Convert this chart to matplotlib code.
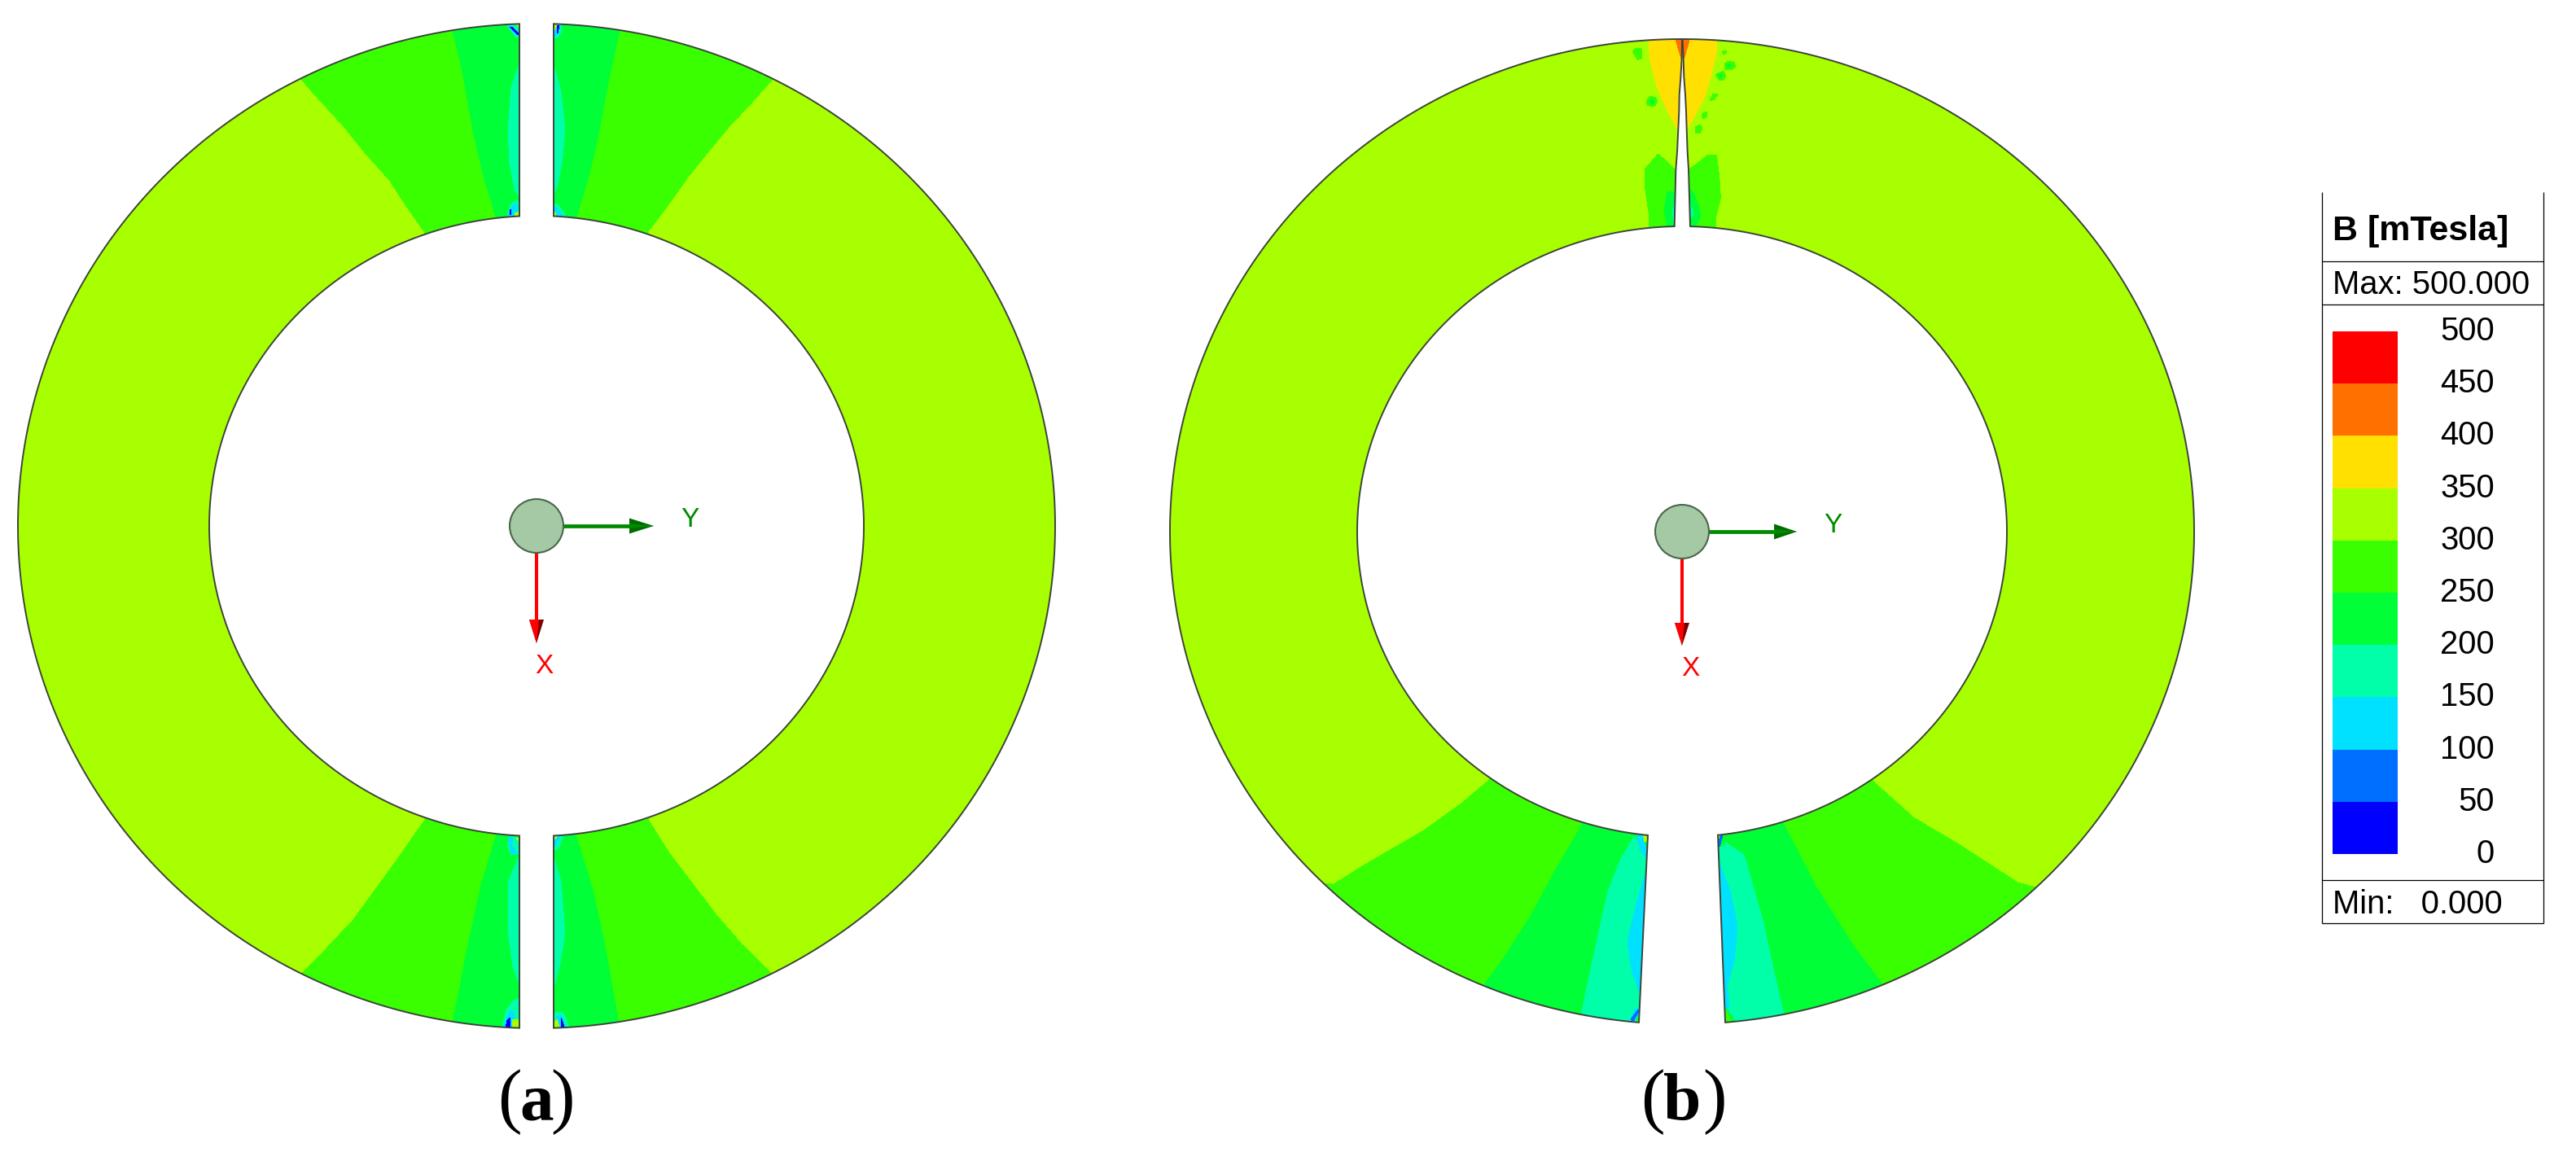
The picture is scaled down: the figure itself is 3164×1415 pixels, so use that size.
import numpy as np
import matplotlib
matplotlib.use("Agg")
import matplotlib.pyplot as plt
from matplotlib.colors import ListedColormap, BoundaryNorm
from matplotlib.patches import Polygon, Ellipse

LEVELS = [0, 50, 100, 150, 200, 250, 300, 350, 400, 450, 500]
BAND_COLORS = ["#0000ff", "#006eff", "#00e0ff", "#00ffa8", "#00ff37",
               "#39ff00", "#a8ff00", "#ffe000", "#ff7000", "#ff0000"]
TITLE = "B [mTesla]"
MAX_LABEL = "Max: 500.000"
MIN_LABEL = "Min:   0.000"

# ring geometry (cx, cy, rx_out, ry_out, rx_in, ry_in)
RING_A = (659, 646, 637, 617, 402, 381)
RING_B = (2066, 653, 629, 605, 399, 375)
GAP_A = (21, 21)


def z3(pts):
    return [(1900 + x / 3, 30 + y / 3) for x, y in pts]


# ---- ring (a): contour bands, (value, vertices) ----
A_LEFT = [
    (275, [(352, 76), (367, 94), (389, 119), (422, 155), (447, 186), (479, 222), (497, 250), (520, 283),
           (530, 300), (640, 300), (640, 0), (352, 0)]),
    (225, [(553, 20), (556, 37), (567, 83), (581, 160), (593, 213), (609, 266), (612, 285), (640, 285), (640, 20)]),
    (175, [(640, 72), (637, 80), (628, 107), (624, 160), (626, 200), (632, 233), (640, 245)]),
    (275, [(368, 1198), (401, 1165), (434, 1130), (487, 1057), (520, 1010), (530, 990), (640, 990), (640, 1290),
           (340, 1290), (352, 1215)]),
    (225, [(609, 1028), (591, 1087), (573, 1170), (556, 1257), (553, 1275), (640, 1275), (640, 1015), (612, 1015)]),
    (175, [(640, 1045), (637, 1053), (624.5, 1083), (624.5, 1147), (630, 1187), (637, 1207), (640, 1215)]),
    # corner specks
    (175, [(622, 30), (640, 30), (640, 46), (634, 46)]),
    (125, [(623, 32), (627, 32), (640, 42), (640, 44), (636, 44)]),
    (25, [(626, 33), (628, 33), (637, 41), (637, 43)]),
    (325, [(634, 30), (640, 30), (640, 36)]),
    (175, [(623, 264), (627, 252), (634, 246), (640, 246), (640, 268), (623, 268)]),
    (125, [(624, 264), (628, 255), (634, 250), (636, 256), (632, 266)]),
    (25, [(626, 264), (627, 257), (628, 257), (628, 264)]),
    (325, [(632, 262), (640, 260), (640, 268), (632, 268)]),
    (175, [(624, 1028), (640, 1028), (640, 1050), (628, 1050), (625, 1042)]),
    (125, [(624, 1028), (630, 1028), (630, 1040), (636, 1050), (628, 1048)]),
    (325, [(634, 1030), (640, 1028), (640, 1036)]),
    (175, [(616, 1265), (622, 1240), (632, 1228), (640, 1225), (640, 1266)]),
    (125, [(618, 1264), (623, 1248), (628, 1240), (632, 1246), (631, 1264)]),
    (25, [(621, 1264), (623, 1253), (626, 1250), (627, 1264)]),
    (325, [(630, 1252), (638, 1252), (640, 1266), (629, 1266)]),
]
A_RIGHT = [
    (275, [(966, 78), (952, 94), (925, 124), (895, 156), (871, 185), (846, 216), (822, 250), (797, 283),
           (790, 300), (678, 300), (678, 0), (966, 0)]),
    (225, [(763, 20), (761, 37), (750, 87), (744, 117), (734, 170), (724, 213), (708, 266), (705, 285),
           (678, 285), (678, 20)]),
    (175, [(678, 76), (681, 83), (689, 113), (694, 160), (690, 200), (685, 227), (681, 237), (678, 245)]),
    (275, [(798, 1010), (822, 1048), (879, 1123), (911, 1160), (950, 1198), (966, 1215), (966, 1290), (678, 1290),
           (678, 990), (790, 990)]),
    (225, [(708, 1028), (728, 1093), (742, 1157), (760, 1257), (763, 1275), (678, 1275), (678, 1015), (705, 1015)]),
    (175, [(678, 1048), (681, 1055), (689, 1083), (694, 1147), (687, 1187), (681, 1210), (678, 1215)]),
    # corner specks
    (175, [(678, 28), (690, 28), (689, 40), (684, 47), (678, 47)]),
    (125, [(678, 28), (688, 30), (686, 42), (678, 46)]),
    (25, [(684, 31), (687, 31), (685, 41), (684, 41)]),
    (325, [(678, 28), (685, 28), (681, 37), (678, 37)]),
    (175, [(678, 250), (684, 250), (695, 265), (678, 268)]),
    (125, [(678, 254), (684, 256), (691, 265), (684, 265)]),
    (325, [(678, 260), (683, 262), (683, 268), (678, 268)]),
    (175, [(678, 1026), (692, 1026), (686, 1042), (678, 1046)]),
    (125, [(678, 1027), (688, 1027), (684, 1036), (678, 1040)]),
    (325, [(678, 1027), (684, 1027), (678, 1034)]),
    (175, [(678, 1255), (682, 1244), (690, 1243), (695, 1250), (700, 1266), (678, 1266)]),
    (125, [(683, 1250), (689, 1246), (695, 1264), (686, 1264)]),
    (25, [(689, 1250), (692, 1258), (693, 1264), (689, 1264)]),
    (325, [(678, 1258), (684, 1252), (688, 1264), (678, 1266)]),
]

# ---- ring (b) ----
B_LEFT = [
    (375, z3([(375, 40), (375, 58), (380, 130), (405, 230), (440, 310), (480, 385), (500, 400), (510, 40)])),
    (425, z3([(472, 40), (475, 58), (495, 125), (510, 125), (510, 40)])),
    (275, z3([(360, 535), (410, 477), (472, 535), (510, 535), (510, 770), (378, 770), (378, 745), (375, 690), (362, 600)])),
    (225, z3([(445, 615), (510, 615), (510, 770), (440, 770), (440, 720), (432, 690), (440, 640)])),
    (175, z3([(462, 690), (470, 660), (510, 660), (510, 730), (468, 730)])),
    (275, z3([(315, 100), (328, 88), (348, 90), (350, 125), (335, 130)])),
    (275, z3([(367, 285), (378, 265), (400, 268), (407, 285), (395, 303), (370, 298)])),
    (225, z3([(378, 285), (388, 275), (398, 283), (388, 295)])),
    (275, [(1840, 940), (1827, 960), (1795, 987), (1749, 1020), (1675, 1063), (1640, 1085), (1600, 1085),
           (1600, 1300), (2030, 1300), (2030, 940)]),
    (225, [(1950, 990), (1943, 1013), (1910, 1070), (1880, 1125), (1847, 1177), (1821, 1212), (1810, 1240),
           (1810, 1300), (2030, 1300), (2030, 990)]),
    (175, [(2014, 1015), (2008, 1026), (1990, 1057), (1975, 1095), (1967, 1130), (1947, 1223), (1942, 1248),
           (1940, 1275), (2030, 1275), (2030, 1015)]),
    (125, [(2030, 1060), (2022, 1070), (2010, 1110), (1999, 1157), (2005, 1195), (2013, 1217), (2030, 1222)]),
    (225, [(2006, 1024), (2030, 1024), (2030, 1044), (2014, 1044), (2012, 1034)]),
    (125, [(2010, 1026), (2018, 1026), (2022, 1044), (2030, 1046), (2030, 1060), (2015, 1046)]),
    (325, [(2018, 1024), (2030, 1024), (2030, 1034), (2020, 1034)]),
    (125, [(2002, 1254), (2008, 1240), (2014, 1238), (2014, 1258), (2002, 1258)]),
    (75, [(2003, 1252), (2012, 1240), (2013, 1242), (2006, 1254)]),
    (225, [(2008, 1256), (2013, 1246), (2016, 1246), (2016, 1258)]),
    (275, [(2010, 1258), (2014, 1250), (2016, 1258)]),
]
B_RIGHT = [
    (375, z3([(625, 40), (625, 100), (610, 170), (580, 270), (540, 345), (515, 385), (490, 400), (490, 40)])),
    (425, z3([(525, 40), (525, 58), (505, 125), (490, 125), (490, 40)])),
    (275, z3([(525, 535), (595, 480), (625, 482), (635, 560), (640, 640), (622, 710), (622, 770), (490, 770), (490, 535)])),
    (225, z3([(525, 605), (545, 630), (565, 690), (565, 715), (545, 745), (490, 770), (490, 605)])),
    (175, z3([(525, 650), (540, 700), (530, 712), (490, 712), (490, 650)])),
    (275, z3([(645, 97), (660, 97), (662, 105), (650, 110)])),
    (275, z3([(655, 145), (670, 135), (690, 140), (695, 155), (680, 168), (655, 168)])),
    (225, z3([(662, 152), (672, 146), (680, 153), (670, 158)])),
    (275, z3([(622, 185), (650, 172), (660, 190), (650, 205), (635, 205)])),
    (225, z3([(632, 188), (642, 182), (648, 190), (640, 196)])),
    (275, z3([(600, 280), (612, 257), (630, 257), (615, 278)])),
    (275, z3([(570, 330), (590, 322), (590, 340), (575, 348)])),
    (275, z3([(547, 378), (565, 370), (572, 385), (565, 400), (548, 400)])),
    (275, [(2290, 945), (2303, 962), (2350, 1004), (2404, 1036), (2478, 1084), (2508, 1092), (2530, 1100),
           (2530, 1300), (2100, 1300), (2100, 945)]),
    (225, [(2186, 995), (2191, 1013), (2231, 1090), (2277, 1163), (2315, 1213), (2325, 1240),
           (2325, 1300), (2100, 1300), (2100, 995)]),
    (175, [(2118, 1030), (2122, 1037), (2142, 1050), (2165, 1130), (2178, 1190), (2191, 1247),
           (2195, 1275), (2100, 1275), (2100, 1030)]),
    (125, [(2100, 1050), (2113, 1063), (2125, 1095), (2134, 1137), (2130, 1180), (2119, 1220), (2100, 1220)]),
    (125, [(2100, 1215), (2122, 1215), (2124, 1238), (2100, 1245)]),
    (225, [(2100, 1024), (2124, 1024), (2118, 1038), (2100, 1044)]),
    (75, [(2110, 1026), (2116, 1026), (2112, 1040), (2110, 1040)]),
    (325, [(2100, 1024), (2113, 1024), (2110, 1032), (2100, 1032)]),
    (225, [(2100, 1236), (2118, 1236), (2134, 1258), (2100, 1258)]),
    (275, [(2100, 1244), (2119, 1240), (2128, 1258), (2100, 1258)]),
]

# ---- ring (b) gap edges ----
GAP_B_LEFT = z3([(498, 58), (497, 125), (493, 195), (488, 260), (487, 320), (484, 385), (480, 470), (475, 535), (470, 745)])
GAP_B_RIGHT = z3([(500, 58), (503, 130), (505, 195), (510, 260), (513, 320), (515, 385), (518, 470), (522, 535), (528, 745)])
SLOT_B_LEFT = [(2024, 1026), (2013, 1256)]
SLOT_B_RIGHT = [(2110, 1026), (2119, 1256)]

cmap = ListedColormap(BAND_COLORS)
norm = BoundaryNorm(LEVELS, cmap.N)
EDGE = "#3c443c"


def half(ring, x_top_out, x_bot_out, x_bot_in, x_top_in, side):
    cx, cy, rxo, ryo, rxi, ryi = ring
    # angle measured from straight up, clockwise; the left half uses negative angles
    def ang(x, rx, top):
        a = np.arcsin(np.clip((x - cx) / rx, -1, 1))
        if top:
            return a
        return (np.pi - a) if side > 0 else (-np.pi - a)
    to0, to1 = ang(x_top_out, rxo, True), ang(x_bot_out, rxo, False)
    ti0, ti1 = ang(x_bot_in, rxi, False), ang(x_top_in, rxi, True)
    t = np.linspace(to0, to1, 300)
    outer = list(zip(cx + rxo * np.sin(t), cy - ryo * np.cos(t)))
    t = np.linspace(ti0, ti1, 220)
    inner = list(zip(cx + rxi * np.sin(t), cy - ryi * np.cos(t)))
    return outer, inner


def draw_half(ax, outline, bands):
    base = Polygon(outline, closed=True, fc=cmap(norm(325)), ec="none", antialiased=False, zorder=1)
    ax.add_patch(base)
    for val, pts in bands:
        p = Polygon(pts, closed=True, fc=cmap(norm(val)), ec="none", antialiased=False, zorder=2)
        ax.add_patch(p)
        p.set_clip_path(base)
    ax.add_patch(Polygon(outline, closed=True, fc="none", ec=EDGE, lw=1.4, joinstyle="miter", zorder=3))


def triad(ax, cx, cy, y_tip, y_head, x_tip, x_head, ylab, xlab):
    ax.plot([cx + 33, y_head], [cy, cy], color="#008a00", lw=3.4, solid_capstyle="butt", zorder=5)
    ax.add_patch(Polygon([(y_head, cy - 9.5), (y_tip, cy), (y_head, cy + 9.5)], fc="#006c00", ec="none", zorder=6))
    ax.add_patch(Polygon([(y_head, cy - 3), (y_tip, cy), (y_head, cy + 3)], fc="#008a00", ec="none", zorder=6))
    ax.plot([cx, cx], [cy + 33, x_head], color="#ff0000", lw=2.9, solid_capstyle="butt", zorder=5)
    ax.add_patch(Polygon([(cx - 9, x_head), (cx, x_tip), (cx + 9, x_head)], fc="#7a0000", ec="none", zorder=6))
    ax.add_patch(Polygon([(cx - 9, x_head), (cx, x_tip), (cx + 3, x_head)], fc="#ff0000", ec="none", zorder=6))
    ax.add_patch(Ellipse((cx, cy), 66, 66, fc="#a5c8a5", ec="#4a664a", lw=1.5, zorder=7))
    ax.text(*ylab, "Y", color="#008a00", fontsize=24, family="Liberation Sans", ha="center", va="center_baseline")
    ax.text(*xlab, "X", color="#ff0000", fontsize=24, family="Liberation Sans", ha="center", va="center_baseline")


fig = plt.figure(figsize=(31.64, 14.15), dpi=100)
ax = fig.add_axes([0, 0, 1, 1])
ax.set_xlim(0, 3164)
ax.set_ylim(1415, 0)
ax.axis("off")

# ring (a): four-cornered halves with a straight slot
cx = RING_A[0]
xl, xr = cx - GAP_A[0], cx + GAP_A[1]
o, i = half(RING_A, xl, xl, xl, xl, -1)
draw_half(ax, o + i, A_LEFT)
o, i = half(RING_A, xr, xr, xr, xr, 1)
draw_half(ax, o + i, A_RIGHT)

# ring (b): halves meeting in a thin wedge at the top, open wedge at the bottom
o, i = half(RING_B, GAP_B_LEFT[0][0], SLOT_B_LEFT[1][0], SLOT_B_LEFT[0][0], GAP_B_LEFT[-1][0], -1)
draw_half(ax, o + i + GAP_B_LEFT[::-1], B_LEFT)
o, i = half(RING_B, GAP_B_RIGHT[0][0], SLOT_B_RIGHT[1][0], SLOT_B_RIGHT[0][0], GAP_B_RIGHT[-1][0], 1)
draw_half(ax, o + i + GAP_B_RIGHT[::-1], B_RIGHT)

triad(ax, 659, 646, 803, 773, 790, 761, (847, 635), (668, 815))
triad(ax, 2066, 653, 2207, 2179, 793, 765, (2251, 642), (2076, 818))

# panel labels
for xs, letter in (((626, 659, 691), "a"), ((2030, 2066, 2106), "b")):
    ax.text(xs[0], 1375, "(", fontsize=64, family="Liberation Serif", ha="center", va="baseline")
    ax.text(xs[1], 1375, letter, fontsize=60, family="Liberation Serif", weight="bold", ha="center", va="baseline")
    ax.text(xs[2], 1375, ")", fontsize=64, family="Liberation Serif", ha="center", va="baseline")

# legend
bar_top, bar_bot = 407.0, 1049.0
def bar_y(v):
    return bar_bot + (bar_top - bar_bot) * np.asarray(v, float) / LEVELS[-1]
vals = np.array([[0.5 * (a + b)] for a, b in zip(LEVELS[:-1], LEVELS[1:])])
ax.pcolormesh([2865, 2945], bar_y(LEVELS), vals, cmap=cmap, norm=norm, antialiased=False, linewidth=0)
for v in LEVELS:
    ax.text(3064, bar_y(v) - 4, str(v), fontsize=28.8, family="Liberation Sans", ha="right", va="center_baseline")
for x in (2852, 3124):
    ax.plot([x, x], [236, 1134], color="black", lw=0.9, solid_capstyle="butt")
for y in (321, 374, 1081, 1134):
    ax.plot([2852, 3124], [y, y], color="black", lw=0.9, solid_capstyle="butt")
ax.text(2865, 279, TITLE, fontsize=31, weight="bold", family="Liberation Sans", ha="left", va="center_baseline")
ax.text(2865, 346, MAX_LABEL, fontsize=28.8, family="Liberation Sans", ha="left", va="center_baseline")
ax.text(2865, 1107, MIN_LABEL, fontsize=28.8, family="Liberation Sans", ha="left", va="center_baseline")

fig.savefig("out.png", dpi=100, facecolor="white")
